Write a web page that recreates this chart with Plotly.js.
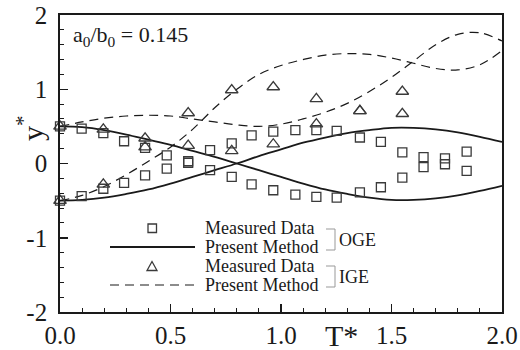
<!DOCTYPE html>
<html>
<head>
<meta charset="utf-8">
<script src="https://cdn.plot.ly/plotly-3.0.1.min.js"></script>
<style>html,body{margin:0;padding:0;background:#fff;}#chart{width:520px;height:350px;}</style>
</head>
<body>
<div id="chart"></div>
<script>
// Present Method curves (sampled along T*)
var curveT = [0,0.1,0.2,0.3,0.4,0.5,0.6,0.7,0.8,0.9,1.0,1.1,1.2,1.3,1.4,1.5,1.6,1.7,1.8,1.9,2.0];
var ogeCurveA = [0.50,0.49,0.45,0.39,0.32,0.25,0.17,0.09,0.00,-0.09,-0.18,-0.27,-0.35,-0.41,-0.46,-0.49,-0.49,-0.47,-0.43,-0.37,-0.30];
var ogeCurveB = [-0.50,-0.49,-0.46,-0.41,-0.35,-0.27,-0.18,-0.09,0.00,0.10,0.19,0.28,0.35,0.41,0.45,0.48,0.48,0.46,0.42,0.36,0.29];
var igeCurveA = [0.50,0.56,0.61,0.64,0.65,0.64,0.60,0.56,0.52,0.50,0.53,0.60,0.69,0.81,0.97,1.16,1.38,1.60,1.74,1.76,1.65];
var igeCurveB = [-0.50,-0.43,-0.31,-0.15,0.03,0.22,0.46,0.75,1.00,1.20,1.32,1.40,1.46,1.48,1.47,1.42,1.35,1.28,1.26,1.33,1.52];

// Measured data
var ogeT = [0,0.098,0.196,0.29,0.385,0.483,0.58,0.679,0.777,0.867,0.965,1.065,1.16,1.252,1.357,1.452,1.549,1.645,1.742,1.84];
var ogeA = [0.50,0.47,0.41,0.30,0.21,0.11,0.03,0.18,0.27,0.38,0.43,0.45,0.45,0.44,0.35,0.29,0.15,0.085,0.07,0.16];
var ogeB = [-0.50,-0.44,-0.34,-0.26,-0.16,-0.07,0.01,-0.09,-0.18,-0.28,-0.36,-0.42,-0.45,-0.46,-0.39,-0.32,-0.19,-0.05,-0.01,-0.10];
var igeT = [0,0.196,0.385,0.58,0.777,0.965,1.16,1.357,1.549];
var igeA = [0.50,0.46,0.34,0.68,0.99,1.03,0.87,0.71,0.97];
var igeB = [-0.50,-0.28,0.22,0.24,0.17,0.26,0.53,0.71,0.67];

var yTickVals = [-2,-1,0,1,2];
var yTickText = ['-2','-1','0','1','2'];

var serif = "'Liberation Serif', 'Times New Roman', Times, serif";
var ink = '#1a1a1a';
var mk = '#3a3a3a';

function line(x, y, dash, w) {
  return {x:x, y:y, type:'scatter', mode:'lines', line:{color:ink, width:w, dash:dash, shape:'spline', smoothing:1}, showlegend:false, hoverinfo:'skip'};
}
function pts(x, y, sym, sz) {
  return {x:x, y:y, type:'scatter', mode:'markers', cliponaxis:false, marker:{symbol:sym, size:sz, color:mk, line:{color:mk, width:1.3}}, showlegend:false, hoverinfo:'skip'};
}

var traces = [
  line(curveT, ogeCurveA, 'solid', 1.8),
  line(curveT, ogeCurveB, 'solid', 1.8),
  line(curveT, igeCurveA, '9px,6px', 1.2),
  line(curveT, igeCurveB, '9px,6px', 1.2),
  pts(ogeT, ogeA, 'square-open', 9),
  pts(ogeT, ogeB, 'square-open', 9),
  pts(igeT, igeA, 'triangle-up-open', 11),
  pts(igeT, igeB, 'triangle-up-open', 11)
];

// pixel -> paper helpers for decoration placement
var L = 60, R = 502, T = 15, B = 312;
function px(x){ return (x - L) / (R - L); }
function py(y){ return (B - y) / (B - T); }

var shapes = [
  // legend samples
  {type:'rect', xref:'paper', yref:'paper', x0:px(148), x1:px(156.5), y0:py(232.5), y1:py(224), line:{color:mk, width:1.3}},
  {type:'line', xref:'paper', yref:'paper', x0:px(110), x1:px(195), y0:py(247), y1:py(247), line:{color:ink, width:1.8}},
  {type:'path', xref:'paper', yref:'paper', path:'M'+px(147)+','+py(270.5)+' L'+px(157)+','+py(270.5)+' L'+px(152)+','+py(261.5)+' Z', line:{color:mk, width:1.3}},
  {type:'line', xref:'paper', yref:'paper', x0:px(110), x1:px(195), y0:py(285), y1:py(285), line:{color:ink, width:1.2, dash:'9px,6px'}},
  // brackets
  {type:'path', xref:'paper', yref:'paper', path:'M'+px(326)+','+py(229)+' L'+px(335)+','+py(229)+' L'+px(335)+','+py(250)+' L'+px(326)+','+py(250), line:{color:'#999', width:1}},
  {type:'path', xref:'paper', yref:'paper', path:'M'+px(326)+','+py(266)+' L'+px(335)+','+py(266)+' L'+px(335)+','+py(287)+' L'+px(326)+','+py(287), line:{color:'#999', width:1}}
];

var legFont = {family:serif, size:18, color:ink};
var annotations = [
  {xref:'paper', yref:'paper', x:px(203), y:py(228), xanchor:'left', yanchor:'middle', text:'Measured Data', showarrow:false, font:legFont},
  {xref:'paper', yref:'paper', x:px(203), y:py(247), xanchor:'left', yanchor:'middle', text:'Present Method', showarrow:false, font:legFont},
  {xref:'paper', yref:'paper', x:px(203), y:py(266), xanchor:'left', yanchor:'middle', text:'Measured Data', showarrow:false, font:legFont},
  {xref:'paper', yref:'paper', x:px(203), y:py(285), xanchor:'left', yanchor:'middle', text:'Present Method', showarrow:false, font:legFont},
  {xref:'paper', yref:'paper', x:px(337), y:py(240), xanchor:'left', yanchor:'middle', text:'OGE', showarrow:false, font:legFont},
  {xref:'paper', yref:'paper', x:px(337), y:py(277), xanchor:'left', yanchor:'middle', text:'IGE', showarrow:false, font:legFont},
  {xref:'paper', yref:'paper', x:px(71), y:py(36), xanchor:'left', yanchor:'middle', text:'a<sub>0</sub>/b<sub>0</sub> = 0.145', showarrow:false, font:{family:serif, size:22, color:ink}},
  {xref:'paper', yref:'paper', x:px(341), y:py(335), xanchor:'center', yanchor:'middle', text:'T*', showarrow:false, font:{family:serif, size:30, color:ink}},
  {xref:'paper', yref:'paper', x:px(30), y:py(128), xanchor:'center', yanchor:'middle', text:'y<sup>*</sup>', textangle:-90, showarrow:false, font:{family:serif, size:30, color:ink}}
];

var axisCommon = {
  showline:true, linewidth:1.8, linecolor:ink, mirror:true,
  showgrid:false, zeroline:false,
  ticks:'inside', ticklen:8, tickwidth:1.5, tickcolor:ink,
  tickfont:{family:serif, size:25, color:ink}
};

var layout = {
  width:520, height:350,
  margin:{l:L, r:520-R, t:T, b:350-B, pad:0},
  paper_bgcolor:'#fff', plot_bgcolor:'#fff',
  showlegend:false,
  font:{family:serif, color:ink},
  xaxis:Object.assign({}, axisCommon, {range:[0,2], tickmode:'linear', tick0:0, dtick:0.5, tickformat:'.1f', ticklabelstandoff:0,
    minor:{dtick:0.1, tick0:0, ticks:'inside', ticklen:4, tickwidth:1, tickcolor:ink, showgrid:false}}),
  yaxis:Object.assign({}, axisCommon, {range:[-2,2], tickmode:'array', tickvals:yTickVals, ticktext:yTickText, ticklabelstandoff:6,
    minor:{dtick:0.2, tick0:0, ticks:'inside', ticklen:4, tickwidth:1, tickcolor:ink, showgrid:false}}),
  shapes:shapes,
  annotations:annotations
};

Plotly.newPlot('chart', traces, layout, {displayModeBar:false, staticPlot:true});
</script>
</body>
</html>
